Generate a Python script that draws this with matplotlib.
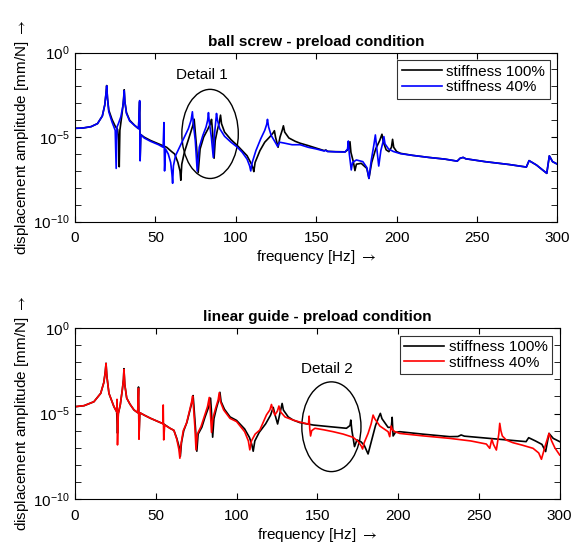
import numpy as np
import matplotlib
matplotlib.use("Agg")
import matplotlib.pyplot as plt
from matplotlib.patches import Ellipse
from matplotlib.ticker import FixedLocator, NullFormatter

plt.rcParams['font.family'] = ['Liberation Sans', 'DejaVu Sans']
plt.rcParams['mathtext.fontset'] = 'custom'
plt.rcParams['mathtext.rm'] = 'Liberation Sans'
plt.rcParams['mathtext.sf'] = 'STIXGeneral'
plt.rcParams['mathtext.default'] = 'regular'

###############################################
# ball screw, frequency [Hz] / log10 amplitude
###############################################
bs_100_f = [0, 5, 10, 14, 17, 18.5, 19.3, 19.7, 20.2, 21, 23, 25, 26.5, 27.2, 27.5, 27.9, 29, 30,
            30.6, 31.0, 32, 34, 37, 39.5, 40.2, 40.5, 40.9, 43, 47, 52, 57, 60, 62, 64, 65.3, 65.8,
            66.4, 68, 70, 72, 73.3, 74.1, 74.7, 75.6, 76.6, 77.8, 80, 82.5, 84.3, 84.9, 85.5, 86.5,
            87.2, 88.5, 89.8, 90.5, 91.1, 93, 97, 101, 104, 107, 109.5, 110.6, 111.2, 112, 115,
            118, 121, 123.2, 124, 124.7, 126.3, 127.5, 129, 129.6, 130.4, 133, 137, 140, 145, 150,
            155, 156, 157, 162, 168, 170.3, 171.0, 171.6, 173.2, 174.1, 175, 178, 181.5, 182.8,
            184.5, 187, 189.5, 190.9, 191.8, 193.5, 195.2, 196.8, 197.5, 198.2, 200, 202.5, 210,
            220, 230, 237.7, 239.5, 241.4, 243, 255, 270, 280.7, 282.4, 287, 293.4, 295, 297, 300]
bs_100_a = [-4.48, -4.46, -4.38, -4.2, -3.75, -3.1, -2.4, -1.95, -2.7, -3.4, -3.95, -4.35, -4.55,
            -5.2, -6.75, -4.6, -3.8, -3.0, -2.2, -2.9, -3.55, -4.0, -4.3, -4.5, -2.9, -6.3, -4.85,
            -5.0, -5.2, -5.4, -5.6, -5.85, -6.0, -6.5, -7.0, -7.55, -6.6, -5.9, -5.3, -4.7, -4.3,
            -3.94, -4.6, -5.6, -7.1, -5.7, -5.0, -4.55, -4.2, -3.95, -4.6, -6.25, -5.2, -4.6, -4.1,
            -3.7, -4.2, -4.7, -5.15, -5.5, -5.8, -6.1, -6.55, -6.8, -7.04, -6.5, -5.8, -5.3, -5.0,
            -4.75, -4.62, -5.0, -5.6, -5.0, -4.55, -4.33, -4.7, -5.05, -5.25, -5.36, -5.5, -5.65,
            -5.8, -5.76, -5.84, -5.86, -5.87, -5.7, -5.27, -5.9, -6.5, -6.98, -6.6, -6.55, -6.85,
            -7.44, -6.5, -5.7, -5.2, -4.83, -5.3, -5.75, -5.86, -5.6, -5.13, -5.6, -5.85, -5.96,
            -6.08, -6.2, -6.3, -6.42, -6.25, -6.2, -6.28, -6.45, -6.62, -6.77, -6.39, -6.65, -7.14,
            -6.11, -6.45, -6.6]

bs_40_f = [0, 5, 10, 14, 17, 18.5, 19.3, 19.7, 20.2, 21, 23, 25, 25.6, 26.1, 27, 28.5, 29.7, 30.3,
           30.6, 31.0, 32, 34, 37, 39.5, 40.2, 40.5, 40.9, 43, 47, 52, 54.8, 55.3, 55.7, 56.3, 58,
           59.5, 60.3, 60.7, 61.2, 62.5, 65, 68, 70.5, 72.2, 73.0, 73.6, 74.8, 76.0, 77.3, 79.5,
           81.5, 82.5, 83.0, 83.5, 84.8, 86.0, 86.6, 87.4, 88.0, 88.6, 90, 93, 97, 101, 104, 107,
           108.6, 109.3, 110.2, 112.5, 115.5, 118, 119.2, 119.7, 120.4, 122, 124.5, 126.0, 127.2,
           130, 135, 140, 145, 150, 155, 156, 157, 162, 168, 169.5, 170.0, 170.6, 171.8, 172.6,
           175, 179, 181.5, 182.8, 184.2, 185.8, 186.8, 187.6, 188.9, 190.2, 191.5, 192.1, 192.8,
           195, 198, 202.5, 210, 220, 230, 237.7, 239.5, 241.4, 243, 255, 270, 280.7, 282.4, 287,
           293.4, 295, 297, 300]
bs_40_a = [-4.48, -4.46, -4.38, -4.2, -3.75, -3.1, -2.4, -1.97, -2.7, -3.5, -4.1, -4.6, -6.85,
           -4.4, -4.2, -3.8, -3.2, -2.7, -2.25, -2.9, -3.6, -4.05, -4.3, -4.5, -2.84, -6.4, -4.85,
           -5.05, -5.25, -5.45, -5.6, -4.14, -7.0, -5.7, -6.0, -6.5, -7.2, -7.73, -6.7, -6.1, -5.6,
           -5.0, -4.5, -4.0, -3.5, -4.2, -5.2, -7.0, -5.6, -4.9, -4.4, -4.0, -3.55, -4.1, -5.0,
           -6.2, -5.0, -4.2, -3.6, -4.0, -4.5, -4.95, -5.3, -5.6, -5.9, -6.3, -6.7, -7.0, -6.5,
           -5.8, -5.1, -4.6, -4.25, -3.95, -4.4, -4.9, -5.3, -5.55, -5.3, -5.35, -5.45, -5.45,
           -5.6, -5.7, -5.82, -5.78, -5.85, -5.87, -5.88, -5.7, -5.23, -6.0, -6.94, -6.5, -6.35,
           -6.45, -6.8, -7.44, -6.4, -5.5, -4.87, -5.6, -6.71, -5.8, -5.3, -4.97, -5.4, -5.7,
           -5.85, -5.98, -6.08, -6.2, -6.3, -6.42, -6.25, -6.2, -6.28, -6.45, -6.62, -6.77, -6.39,
           -6.65, -7.14, -6.11, -6.45, -6.6]

###############################################
# linear guide, frequency [Hz] / log10 amplitude
###############################################
lg_100_f = [0, 5.6, 11.7, 15.9, 17.8, 18.7, 19.2, 19.7, 21, 24.1, 25.8, 26.3, 26.8, 28, 29.3, 30.0,
            30.3, 30.8, 32, 34, 36.5, 38.8, 39.3, 39.6, 40.1, 43, 46.8, 52.9, 54.6, 55.5, 58.8,
            61.2, 63, 64.6, 65.2, 65.9, 67.3, 69.3, 71.3, 72.5, 73.1, 73.7, 74.6, 75.4, 76.2, 78.5,
            80.5, 82.8, 83.9, 84.4, 85.2, 86, 87.5, 89, 89.7, 90.4, 92.5, 96, 100, 105, 108, 109.4,
            110.3, 111.3, 114, 118, 121, 122.7, 123.6, 125.4, 126.8, 128.2, 129, 132, 135, 139.2,
            147.4, 158, 168, 170.2, 170.7, 171.4, 173, 174.5, 177, 179, 181.4, 183.5, 186, 188, 189,
            190, 193.8, 195.8, 196.3, 196.9, 198.3, 201, 215, 232, 237, 239, 241, 260, 279.2,
            280.8, 285, 289, 291.3, 293.4, 296, 300]
lg_100_a = [-4.6, -4.54, -4.31, -3.82, -3.2, -2.6, -2.06, -2.8, -3.82, -4.6, -4.9, -6.15, -5.0,
            -4.5, -3.6, -3.0, -2.38, -3.3, -4.1, -4.45, -4.79, -4.95, -3.45, -6.4, -4.95, -5.1,
            -5.28, -5.53, -5.58, -5.65, -5.86, -5.98, -6.45, -7.0, -7.5, -6.7, -6.0, -5.5, -4.75,
            -4.3, -3.95, -4.7, -5.9, -7.2, -6.2, -5.8, -5.2, -4.6, -4.1, -4.8, -6.38, -5.3, -4.7,
            -4.2, -3.76, -4.3, -4.75, -5.2, -5.4, -5.9, -6.4, -6.8, -7.2, -6.6, -6.1, -5.6, -5.1,
            -4.64, -5.0, -5.61, -5.0, -4.41, -4.8, -5.2, -5.38, -5.53, -5.67, -5.77, -5.86, -5.7,
            -5.38, -6.0, -6.93, -6.54, -6.65, -6.85, -7.36, -6.6, -5.7, -5.2, -4.99, -5.3, -5.81,
            -5.8, -5.22, -6.31, -6.1, -6.06, -6.2, -6.35, -6.34, -6.25, -6.32, -6.48, -6.64, -6.41,
            -6.6, -6.8, -7.22, -6.16, -6.45, -6.64]

lg_40_f = [0, 5.6, 11.7, 15.9, 17.8, 18.7, 19.2, 19.7, 21, 24.1, 25.8, 26.0, 26.3, 26.8, 28, 29.3,
           30.0, 30.3, 30.8, 32, 34, 36.5, 38.8, 39.3, 39.6, 40.1, 43, 46.8, 52.9, 54.4, 54.6,
           54.9, 55.5, 58.8, 61.2, 63, 64.3, 64.9, 65.6, 67, 69, 71, 72.2, 72.8, 73.4, 74.2, 74.9,
           75.7, 78, 80, 82, 83.1, 83.7, 84.5, 85.3, 87, 88.6, 89.3, 90, 92, 95.9, 100, 105, 107.3,
           108.2, 109.2, 111.5, 114.4, 118.5, 120.6, 121.6, 122.5, 123.7, 125.3, 126.2, 127.2, 130,
           135, 139.2, 144.5, 144.9, 145.3, 145.8, 146.5, 148.5, 154, 159.8, 166, 172.2, 175.3,
           177.2, 178, 179, 181.4, 183.3, 184.5, 185.5, 188.7, 193.8, 194.8, 195.7, 196.5, 198,
           201, 215, 232, 245, 254.6, 256.7, 258, 259, 260.8, 262.3, 262.9, 263.6, 264.5, 267, 271,
           277, 283.5, 287, 288.7, 291, 293.4, 295, 297, 300]
lg_40_a = [-4.6, -4.54, -4.31, -3.82, -3.2, -2.6, -2.08, -2.8, -3.82, -4.6, -4.9, -4.17, -6.83,
           -5.0, -4.5, -3.6, -3.0, -2.42, -3.3, -4.1, -4.45, -4.79, -4.95, -3.53, -6.5, -4.95,
           -5.1, -5.28, -5.53, -5.6, -4.5, -6.54, -5.67, -5.86, -5.98, -6.5, -7.1, -7.61, -6.8,
           -6.0, -5.57, -4.79, -4.3, -3.98, -4.7, -5.8, -7.12, -6.2, -5.76, -5.18, -4.6, -4.06,
           -4.8, -6.1, -5.3, -4.7, -4.2, -3.78, -4.3, -4.79, -5.28, -5.47, -6.06, -6.6, -7.12,
           -6.6, -6.2, -5.96, -5.08, -4.79, -4.47, -4.8, -5.09, -4.85, -4.56, -4.9, -5.2, -5.38,
           -5.5, -5.62, -5.15, -5.9, -6.31, -6.0, -5.86, -5.95, -6.06, -6.2, -6.39, -6.64, -6.9,
           -7.07, -6.7, -6.16, -5.6, -5.09, -5.3, -5.73, -6.06, -6.35, -5.73, -5.95, -6.06, -6.16,
           -6.3, -6.45, -6.6, -6.78, -7.03, -6.5, -6.8, -7.13, -6.2, -5.57, -6.0, -6.31, -6.55,
           -6.7, -6.85, -7.03, -7.3, -7.67, -6.9, -6.16, -6.6, -7.0, -7.42]

legend_labels = ["stiffness 100%", "stiffness 40%"]
titles = ["ball screw - preload condition", "linear guide - preload condition"]
details = ["Detail 1", "Detail 2"]
xticks = [0, 50, 100, 150, 200, 250, 300]
yticks = [1e-10, 1e-5, 1e0]
ytick_labels = ["$10^{-10}$", "$10^{-5}$", "$10^{0}$"]

FS = 11


def style_axis(ax, title):
    ax.set_yscale("log")
    ax.set_xlim(0, 300)
    ax.set_ylim(1e-10, 1e0)
    ax.set_xticks(xticks)
    ax.set_yticks(yticks)
    ax.set_yticklabels(ytick_labels)
    ax.yaxis.set_minor_locator(FixedLocator([10.0 ** -k for k in range(1, 10)]))
    ax.yaxis.set_minor_formatter(NullFormatter())
    ax.tick_params(which="both", direction="in", top=True, right=True, labelsize=FS)
    ax.tick_params(which="both", length=4)
    ax.tick_params(axis="x", pad=7)
    ax.tick_params(axis="y", pad=4)
    ax.set_title(title, fontsize=FS, fontweight="bold", pad=5)
    ax.set_xlabel("frequency [Hz] $\\mathsf{\\rightarrow}$", fontsize=FS, labelpad=2)
    ax.set_ylabel("displacement amplitude [mm/N] $\\mathsf{\\rightarrow}$", fontsize=FS, labelpad=1)


fig = plt.figure(figsize=(5.77, 5.42), dpi=100)
ax1 = fig.add_axes([0.130, 0.591, 0.836, 0.312])
ax2 = fig.add_axes([0.130, 0.079, 0.840, 0.316])

ax1.plot(bs_100_f, 10.0 ** np.array(bs_100_a), color="black", lw=1.2, label=legend_labels[0])
ax1.plot(bs_40_f, 10.0 ** np.array(bs_40_a), color="blue", lw=1.2, label=legend_labels[1])
style_axis(ax1, titles[0])
ax1.add_patch(Ellipse((0.28, 0.519), 0.117, 0.527, transform=ax1.transAxes,
                      fill=False, edgecolor="black", lw=1.0))
ax1.text(0.264, 0.868, details[0], transform=ax1.transAxes, ha="center", va="center", fontsize=FS)
leg = ax1.legend(loc="upper right", fontsize=FS, frameon=True, fancybox=False,
                 edgecolor="black", borderpad=0.3, labelspacing=0.1, handlelength=2.6,
                 handletextpad=0.3, borderaxespad=0.5)
leg.get_frame().set_linewidth(0.8)

ax2.plot(lg_100_f, 10.0 ** np.array(lg_100_a), color="black", lw=1.2, label=legend_labels[0])
ax2.plot(lg_40_f, 10.0 ** np.array(lg_40_a), color="red", lw=1.2, label=legend_labels[1])
style_axis(ax2, titles[1])
ax2.add_patch(Ellipse((0.529, 0.423), 0.122, 0.524, transform=ax2.transAxes,
                      fill=False, edgecolor="black", lw=1.0))
ax2.text(0.519, 0.758, details[1], transform=ax2.transAxes, ha="center", va="center", fontsize=FS)
leg = ax2.legend(loc="upper right", fontsize=FS, frameon=True, fancybox=False,
                 edgecolor="black", borderpad=0.3, labelspacing=0.1, handlelength=2.6,
                 handletextpad=0.3, borderaxespad=0.5)
leg.get_frame().set_linewidth(0.8)

fig.savefig("out.png", dpi=100)
